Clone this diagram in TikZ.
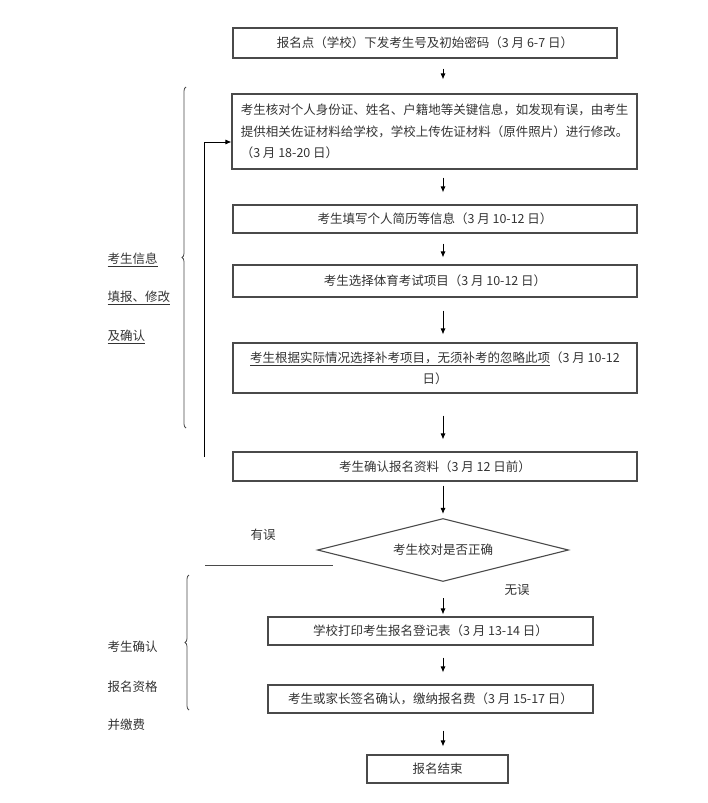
\documentclass[tikz,border=0pt]{standalone}
\usepackage{fontspec}
\setmainfont{Noto Sans CJK SC}
\usepackage{xcolor}
\usetikzlibrary{shapes.geometric,arrows.meta,decorations.pathreplacing}
\definecolor{ink}{HTML}{333333}
\definecolor{edge}{HTML}{4A4A4A}
\tikzset{
  stepbox/.style={draw=edge, line width=1.1pt, minimum width=404pt, minimum height=28pt,
    inner sep=0pt, text=ink, font=\fontsize{12.5pt}{21.5pt}\selectfont},
  decide/.style={diamond, aspect=4, draw=edge, line width=1.1pt, minimum width=251pt,
    minimum height=63pt, inner sep=0pt, text=ink, font=\fontsize{12.5pt}{15pt}\selectfont},
  arr/.style={draw=black, line width=0.9pt, -{Latex[length=6pt,width=5pt]}},
  faint/.style={draw=edge, line width=0.9pt},
  curly/.style={draw=edge, line width=0.8pt, decorate, decoration={brace, amplitude=4pt}},
  lab/.style={text=ink, font=\fontsize{12.5pt}{15pt}\selectfont},
}
\begin{document}
\begin{tikzpicture}[x=1pt, y=-1pt]
  \useasboundingbox (0,0) rectangle (707,803);
  \coordinate (axis) at (443,0);

  \node[stepbox, minimum width=384pt, minimum height=30pt] (issue) at (425,43) {报名点（学校）下发考生号及初始密码（3 月 6-7 日）};
  \node[stepbox, minimum width=405pt, minimum height=75pt, align=left] (verifyinfo) at (434.5,131.5)
    {考生核对个人身份证、姓名、户籍地等关键信息，如发现有误，由考生\\提供相关佐证材料给学校，学校上传佐证材料（原件照片）进行修改。\\（3 月 18-20 日）};
  \node[stepbox] (resume) at (435,219) {考生填写个人简历等信息（3 月 10-12 日）};
  \node[stepbox, minimum height=32pt] (sport) at (435,281) {考生选择体育考试项目（3 月 10-12 日）};
  \node[stepbox, minimum height=50pt, align=center] (makeup) at (435,368)
    {\underline{考生根据实际情况选择补考项目，无须补考的忽略此项}（3 月 10-12\\日）};
  \node[stepbox, minimum height=29pt] (confirm) at (435,466.5) {考生确认报名资料（3 月 12 日前）};
  \node[decide] (check) at (443,550) {考生校对是否正确};
  \node[stepbox, minimum width=325pt] (print) at (430.5,631) {学校打印考生报名登记表（3 月 13-14 日）};
  \node[stepbox, minimum width=325pt] (sign) at (430.5,699) {考生或家长签名确认，缴纳报名费（3 月 15-17 日）};
  \node[stepbox, minimum width=141pt] (finish) at (437.5,769) {报名结束};

  \foreach \a/\b/\s/\e in {issue/verifyinfo/10/14, verifyinfo/resume/8/12, resume/sport/10/7,
      sport/makeup/13/8, makeup/confirm/22/12, confirm/check/4/4, check/print/16/2,
      print/sign/12/12, sign/finish/17/8}
    \draw[arr, shorten <=\s pt, shorten >=\e pt] (\a.south -| axis) -- (\b.north -| axis);

  % way back for corrections
  \coordinate (backfoot) at (204,457);
  \draw[arr] (backfoot) |- ([yshift=-10.5pt]verifyinfo.west);
  \coordinate (errleft) at (205,565);
  \coordinate (errright) at (333,565);
  \draw[faint] (errleft) -- (errright);
  \node[lab] (wrong) at (263,535) {有误};
  \node[lab] (right) at (517,590) {无误};

  % group braces
  \draw[curly] (186,428) -- (186,87);
  \draw[curly] (189,710) -- (189,575);
  \node[lab, anchor=west] (gA1) at (104,260) {\underline{考生信息}};
  \node[lab, anchor=west] (gA2) at (104,298) {\underline{填报、修改}};
  \node[lab, anchor=west] (gA3) at (104,337) {\underline{及确认}};
  \node[lab, anchor=west] (gB1) at (104,647) {考生确认};
  \node[lab, anchor=west] (gB2) at (104,687) {报名资格};
  \node[lab, anchor=west] (gB3) at (104,725) {并缴费};
\end{tikzpicture}
\end{document}
